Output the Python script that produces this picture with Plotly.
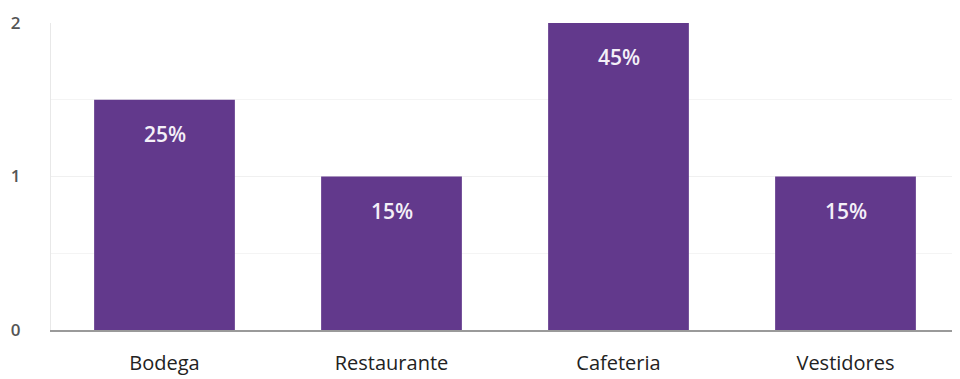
import plotly.graph_objects as go

categories = ["Bodega", "Restaurante", "Cafeteria", "Vestidores"]
values = [1.5, 1, 2, 1]
labels = ["25%", "15%", "45%", "15%"]
y_ticks = [0, 1, 2]

purple = "#62398c"

fig = go.Figure()
fig.add_trace(go.Bar(
    x=categories, y=values, marker=dict(color=purple, line=dict(width=0)),
    hoverinfo="skip",
))

for c, v, t in zip(categories, values, labels):
    fig.add_annotation(x=c, y=v, text=t, showarrow=False, yshift=-34,
                       font=dict(family="Open Sans", size=21, color="#f4f0f8", weight=600))

fig.update_layout(
    width=952, height=371,
    margin=dict(l=43, r=1, t=15, b=49),
    paper_bgcolor="white", plot_bgcolor="white",
    bargap=0.38, showlegend=False,
    font=dict(family="Open Sans"),
)
fig.update_xaxes(
    showgrid=False, showline=True, linecolor="#9a9a9a", linewidth=2,
    tickfont=dict(size=20, color="#222222"), ticks="",
    ticklabelstandoff=14, automargin=False,
)
fig.update_yaxes(
    range=[0, 2], tickvals=y_ticks, showgrid=True, gridcolor="#f0f0f0",
    minor=dict(dtick=0.5, showgrid=True, gridcolor="#f4f4f4"),
    showline=True, linecolor="#e8e8e8", linewidth=1,
    tickfont=dict(size=17, color="#555555", weight=600), ticklabelstandoff=26,
    zeroline=False, automargin=False,
)

fig.write_html("out.html")
